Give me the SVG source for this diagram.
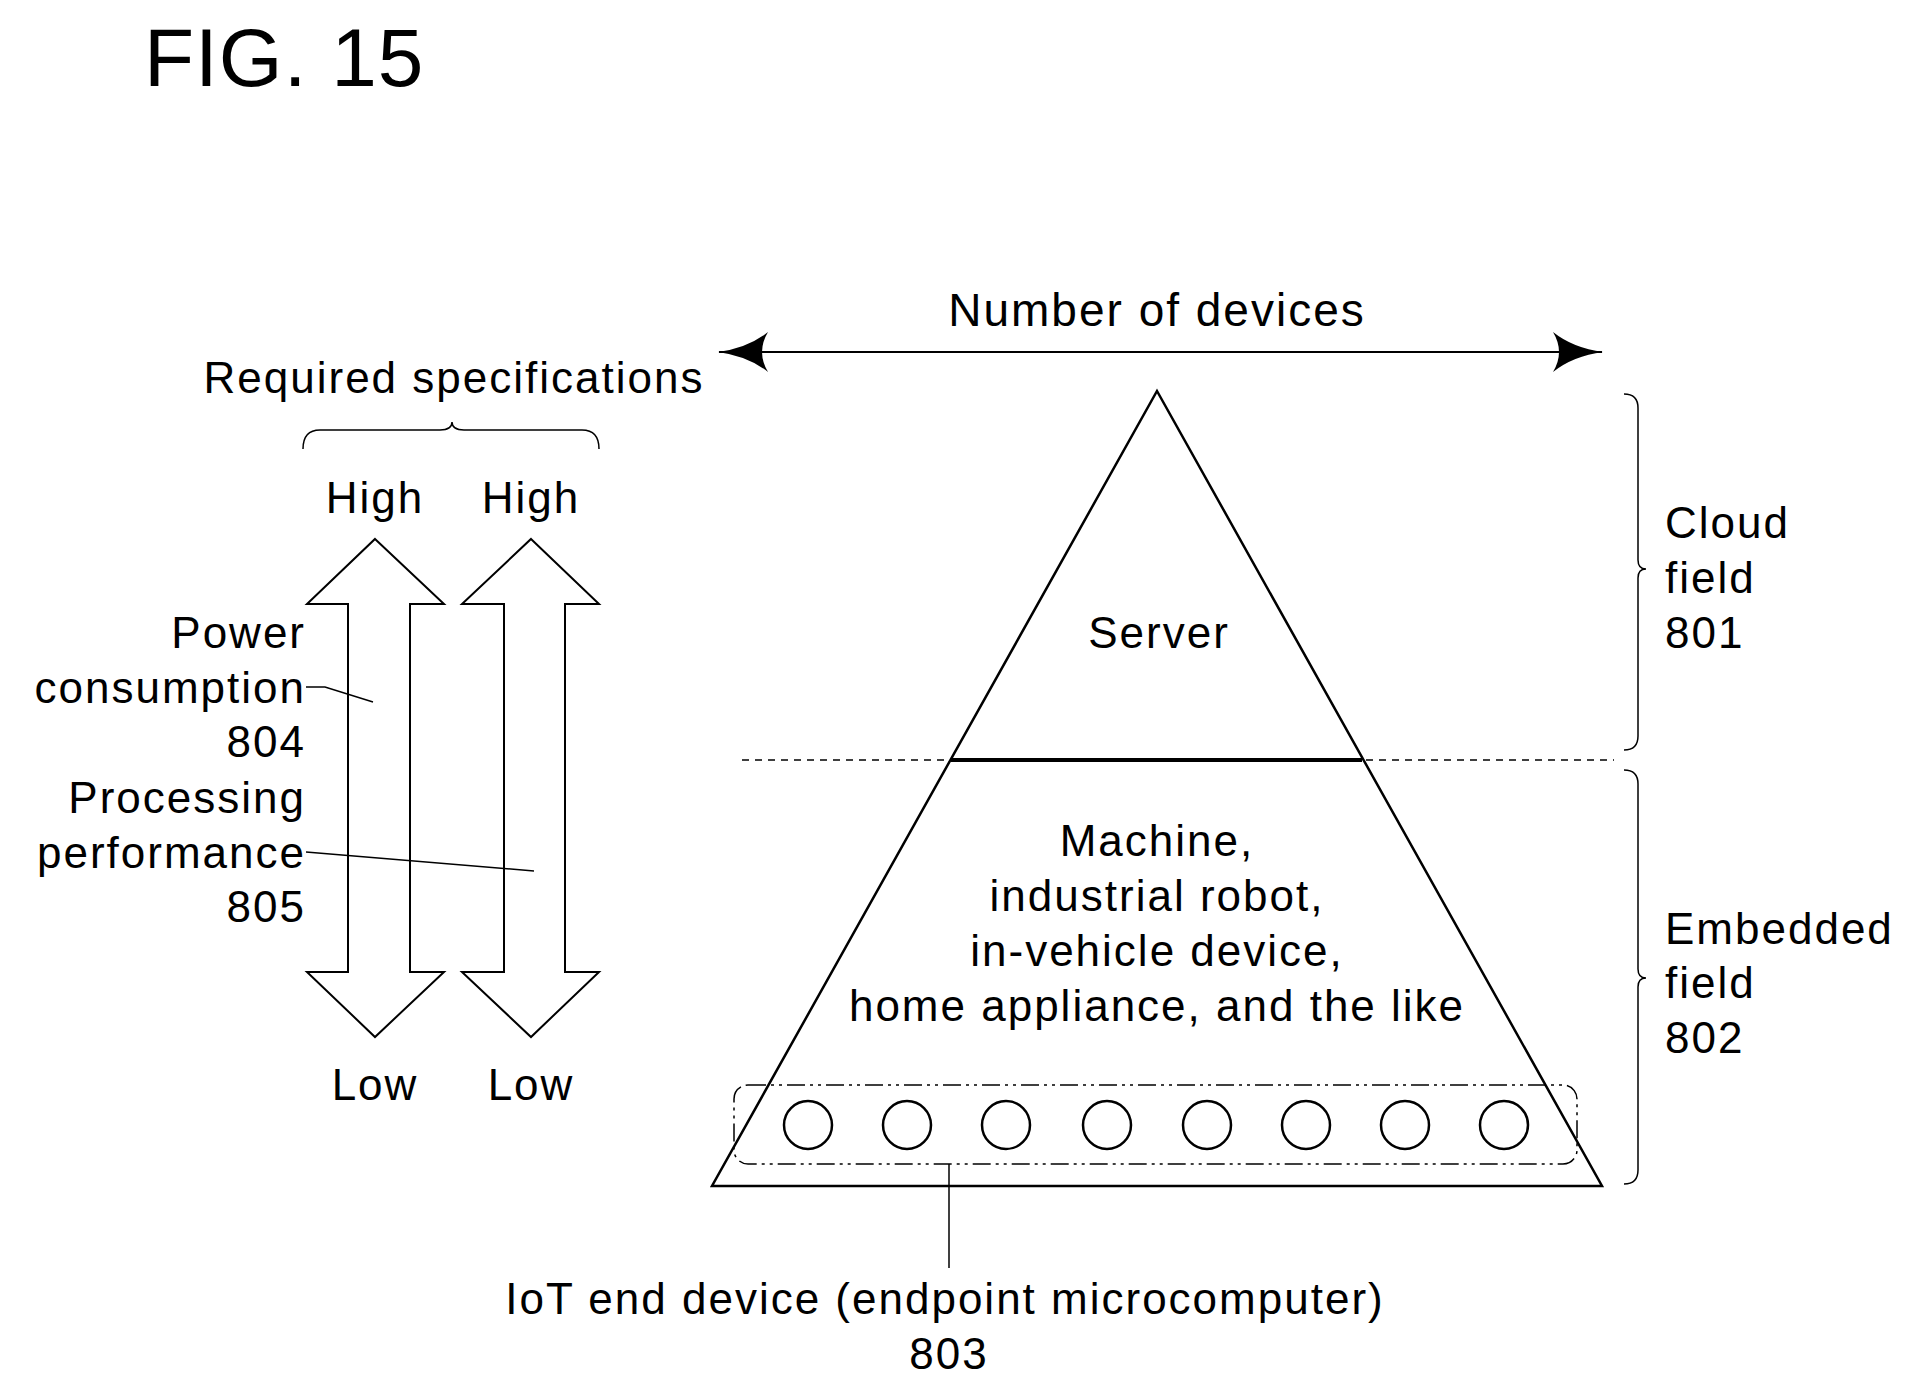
<svg xmlns="http://www.w3.org/2000/svg" width="1916" height="1391" viewBox="0 0 1916 1391">
<style>
text{font-family:"Liberation Sans",Arial,sans-serif;font-size:44px;fill:#000;letter-spacing:2px}
.c{text-anchor:middle}.r{text-anchor:end}
.s{fill:none;stroke:#000;stroke-width:2.5}
.t{fill:none;stroke:#000;stroke-width:1.5}
</style>
<defs>
<marker id="ah" viewBox="0 0 50 40" refX="49" refY="20" markerWidth="50" markerHeight="40" markerUnits="userSpaceOnUse" orient="auto-start-reverse"><path d="M0,0 Q20,16 50,20 Q20,24 0,40 Q12,20 0,0 Z"/></marker>
</defs>
<rect width="1916" height="1391" fill="#fff"/>
<text x="144" y="86" style="font-size:82px;letter-spacing:1px">FIG. 15</text>
<text class="c" x="1157" y="326" style="font-size:46px">Number of devices</text>
<text class="c" x="454" y="393">Required specifications</text>
<g id="connectors">
<line x1="719" y1="352" x2="1602" y2="352" class="s" marker-start="url(#ah)" marker-end="url(#ah)" style="stroke-width:2"/>
<path class="t" d="M303,449 Q303,430 320,430 L440,430 Q452,430 452,422 Q452,430 464,430 L582,430 Q599,430 599,449"/>
<path class="t" d="M306,687 L325,687 L373,702"/>
<path class="t" d="M306,852 L534,871"/>
<line x1="949" y1="1164" x2="949" y2="1268" class="t"/>
<path class="t" d="M1624,394 Q1638,394 1638,408 L1638,560 Q1638,569 1646,569 Q1638,569 1638,578 L1638,736 Q1638,750 1624,750"/>
<path class="t" d="M1624,770 Q1638,770 1638,784 L1638,969 Q1638,978 1646,978 Q1638,978 1638,987 L1638,1170 Q1638,1184 1624,1184"/>
<line x1="742" y1="760" x2="1614" y2="760" class="t" stroke-dasharray="7,6"/>
</g>
<g id="arrow804"><path class="s" style="stroke-width:2" d="M375,539 L444,604 L410,604 L410,972 L444,972 L375,1037 L307,972 L348,972 L348,604 L307,604 Z"/></g>
<g id="arrow805"><path class="s" style="stroke-width:2" d="M531,539 L599,604 L565,604 L565,972 L599,972 L531,1037 L462,972 L504,972 L504,604 L462,604 Z"/></g>
<text class="c" x="375" y="513">High</text><text class="c" x="531" y="513">High</text>
<text class="c" x="375" y="1100">Low</text><text class="c" x="531" y="1100">Low</text>
<g id="label804"><text class="r" x="306" y="648">Power</text><text class="r" x="306" y="703">consumption</text><text class="r" x="306" y="757">804</text></g>
<g id="label805"><text class="r" x="306" y="813">Processing</text><text class="r" x="306" y="868">performance</text><text class="r" x="306" y="922">805</text></g>
<g id="pyramid">
<path class="s" d="M1157,391 L1602,1186 L712,1186 Z"/>
<line x1="951" y1="760" x2="1362" y2="760" stroke="#000" stroke-width="4"/>
<text class="c" x="1159" y="648">Server</text>
<text class="c" x="1157" y="856">Machine,</text>
<text class="c" x="1157" y="911">industrial robot,</text>
<text class="c" x="1157" y="966">in-vehicle device,</text>
<text class="c" x="1157" y="1021">home appliance, and the like</text>
</g>
<g id="iot803">
<rect x="734" y="1085" width="843" height="79" rx="14" class="t" stroke-dasharray="18,5,3,5,3,5"/>
<g class="s" style="stroke-width:2.5">
<circle cx="808" cy="1125" r="24"/><circle cx="907" cy="1125" r="24"/><circle cx="1006" cy="1125" r="24"/><circle cx="1107" cy="1125" r="24"/><circle cx="1207" cy="1125" r="24"/><circle cx="1306" cy="1125" r="24"/><circle cx="1405" cy="1125" r="24"/><circle cx="1504" cy="1125" r="24"/>
</g>
<text class="c" x="945" y="1314">IoT end device (endpoint microcomputer)</text>
<text class="c" x="949" y="1369">803</text>
</g>
<g id="cloud801"><text x="1665" y="538">Cloud</text><text x="1665" y="593">field</text><text x="1665" y="648">801</text></g>
<g id="embedded802"><text x="1665" y="944">Embedded</text><text x="1665" y="998">field</text><text x="1665" y="1053">802</text></g>
</svg>
